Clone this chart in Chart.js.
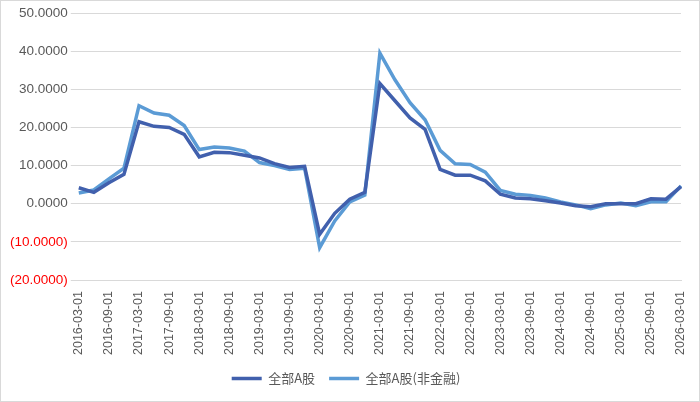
<!DOCTYPE html>
<html>
<head>
<meta charset="utf-8">
<script src="https://cdn.jsdelivr.net/npm/chart.js@4"></script>
<style>
  body { margin: 0; background: #fff; }
  #wrap { width: 698px; height: 400px; border: 1px solid #d9d9d9; }
</style>
</head>
<body>
<div id="wrap"><canvas id="c" width="698" height="400"></canvas></div>
<script>
const dates = [];
for (let y = 2016; y <= 2026; y++) {
  for (const m of ['03', '06', '09', '12']) {
    if (y === 2026 && m !== '03') break;
    dates.push(y + '-' + m + '-01');
  }
}
const allA = [4.2, 3.0, 5.5, 7.7, 21.5, 20.3, 20.0, 18.2, 12.3, 13.5, 13.4, 12.7, 12.0, 10.5, 9.5, 9.8,
  -8.0, -2.5, 1.2, 3.0, 31.5, 27.0, 22.5, 19.5, 9.0, 7.5, 7.5, 6.0, 2.5, 1.5, 1.3, 0.8,
  0.2, -0.5, -0.8, 0.0, 0.0, 0.0, 1.3, 1.2, 4.5];
const allANonFin = [2.8, 3.6, 6.5, 9.3, 25.7, 23.8, 23.2, 20.5, 14.2, 14.9, 14.6, 13.8, 10.8, 10.0, 9.0, 9.3,
  -11.5, -4.5, 0.5, 2.3, 39.5, 32.5, 26.5, 22.0, 14.0, 10.5, 10.3, 8.3, 3.5, 2.5, 2.2, 1.5,
  0.5, -0.3, -1.3, -0.3, 0.2, -0.5, 0.5, 0.5, 4.7];

const fmt = v => v < 0 ? '(' + Math.abs(v).toFixed(4) + ')' : v.toFixed(4);

new Chart(document.getElementById('c'), {
  type: 'line',
  data: {
    labels: dates,
    datasets: [
      { label: '全部A股', data: allA, borderColor: '#4160ad', borderWidth: 3.5, pointRadius: 0, tension: 0 },
      { label: '全部A股(非金融)', data: allANonFin, borderColor: '#5b9bd5', borderWidth: 3.5, pointRadius: 0, tension: 0 }
    ]
  },
  options: {
    responsive: false,
    animation: false,
    layout: { padding: { left: 6, right: 14, top: 12, bottom: 6 } },
    plugins: {
      legend: {
        position: 'bottom',
        labels: {
          font: { family: 'Noto Sans CJK SC', size: 13 }, color: '#595959',
          boxWidth: 30, boxHeight: 0, padding: 14,
          generateLabels: ch => ch.data.datasets.map((d, i) => ({
            text: d.label, strokeStyle: d.borderColor, fillStyle: d.borderColor,
            lineWidth: 3.5, fontColor: '#595959', datasetIndex: i
          }))
        }
      },
      tooltip: { enabled: false }
    },
    scales: {
      x: {
        grid: { display: false },
        border: { color: '#d9d9d9' },
        ticks: {
          autoSkip: false, maxRotation: 90, minRotation: 90,
          font: { family: 'Liberation Sans', size: 12.5 }, color: '#595959',
          callback: function (v, i) { return i % 2 === 0 ? this.getLabelForValue(v) : ''; }
        }
      },
      y: {
        min: -20, max: 50,
        border: { display: false },
        grid: { color: '#d9d9d9' },
        ticks: {
          stepSize: 10,
          font: { family: 'Liberation Sans', size: 13.5 },
          color: c => c.tick.value < 0 ? '#ff0000' : '#595959',
          callback: v => fmt(v)
        }
      }
    }
  }
});
</script>
</body>
</html>
